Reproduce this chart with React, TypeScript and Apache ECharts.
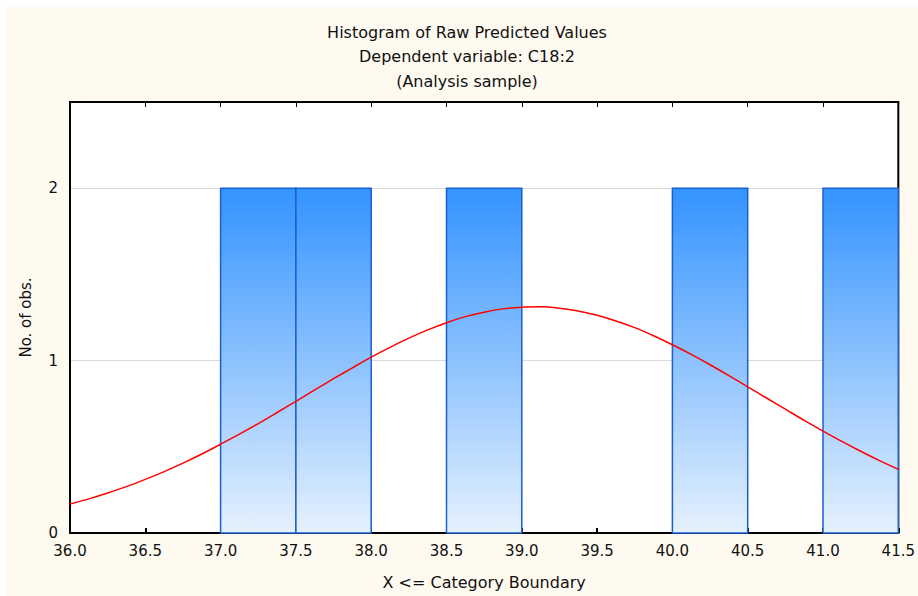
import React, { useEffect, useRef } from "react";
import * as echarts from "echarts";

const binStarts = [36.0, 36.5, 37.0, 37.5, 38.0, 38.5, 39.0, 39.5, 40.0, 40.5, 41.0];
const binEnds = [36.5, 37.0, 37.5, 38.0, 38.5, 39.0, 39.5, 40.0, 40.5, 41.0, 41.5];
const counts = [0, 0, 2, 2, 0, 2, 0, 0, 2, 0, 2];

const curveX = [
  36.0, 36.125, 36.25, 36.375, 36.5, 36.625, 36.75, 36.875, 37.0, 37.125, 37.25, 37.375,
  37.5, 37.625, 37.75, 37.875, 38.0, 38.125, 38.25, 38.375, 38.5, 38.625, 38.75, 38.875,
  39.0, 39.125, 39.25, 39.375, 39.5, 39.625, 39.75, 39.875, 40.0, 40.125, 40.25, 40.375,
  40.5, 40.625, 40.75, 40.875, 41.0, 41.125, 41.25, 41.375, 41.5,
];
const curveY = [
  0.168, 0.198, 0.232, 0.269, 0.311, 0.356, 0.405, 0.458, 0.515, 0.574, 0.635, 0.699,
  0.764, 0.83, 0.895, 0.958, 1.02, 1.077, 1.13, 1.178, 1.22, 1.255, 1.281, 1.3,
  1.31, 1.312, 1.304, 1.288, 1.263, 1.23, 1.191, 1.144, 1.092, 1.036, 0.976, 0.913,
  0.848, 0.783, 0.718, 0.653, 0.591, 0.531, 0.474, 0.42, 0.37,
];

const titleLines = ["Histogram of Raw Predicted Values", "Dependent variable: C18:2", "(Analysis sample)"];
const xAxisName = "X <= Category Boundary";
const yAxisName = "No. of obs.";

export default function App() {
  const ref = useRef<HTMLDivElement>(null);
  useEffect(() => {
    if (!ref.current) return;
    const chart = echarts.init(ref.current, null, { renderer: "svg" });
    const axisFont = "'DejaVu Sans', Verdana, sans-serif";
    const barFill = new echarts.graphic.LinearGradient(0, 0, 0, 1, [
      { offset: 0, color: "#3393ff" },
      { offset: 1, color: "#e6f1fd" },
    ]);
    chart.setOption({
      animation: false,
      backgroundColor: "#ffffff",
      graphic: [
        {
          type: "rect",
          z: -10,
          silent: true,
          shape: { x: 5, y: 7, width: 913, height: 589 },
          style: { fill: "#fefaf0" },
        },
        ...titleLines.map((t, i) => ({
          type: "text",
          x: 467,
          y: 32 + i * 24.5,
          style: {
            text: t,
            fill: "#111",
            font: `16px ${axisFont}`,
            textAlign: "center",
            textVerticalAlign: "middle",
          },
        })),
      ],
      grid: {
        left: 70,
        right: 19,
        top: 102,
        bottom: 63,
        show: true,
        backgroundColor: "#ffffff",
        borderColor: "#000",
        borderWidth: 2,
      },
      xAxis: [
        {
          type: "value",
          min: 36,
          max: 41.5,
          interval: 0.5,
          position: "bottom",
          name: xAxisName,
          nameLocation: "middle",
          nameGap: 41,
          nameTextStyle: { color: "#111", fontFamily: axisFont, fontSize: 16 },
          axisLine: { show: true, lineStyle: { color: "#000", width: 2 } },
          axisTick: { show: true, inside: true, length: 5, lineStyle: { color: "#000", width: 2 } },
          axisLabel: {
            color: "#111",
            fontFamily: axisFont,
            fontSize: 15,
            margin: 10,
            formatter: (v: number) => v.toFixed(1),
          },
          splitLine: { show: false },
        },
        {
          type: "value",
          min: 36,
          max: 41.5,
          interval: 0.5,
          position: "top",
          axisLine: { show: true, lineStyle: { color: "#000", width: 2 } },
          axisTick: { show: true, inside: true, length: 5, lineStyle: { color: "#000", width: 1 } },
          axisLabel: { show: false },
          splitLine: { show: false },
        },
      ],
      yAxis: {
        type: "value",
        min: 0,
        max: 2.5,
        interval: 1,
        name: yAxisName,
        nameLocation: "middle",
        nameGap: 37,
        nameRotate: 90,
        nameTextStyle: { color: "#111", fontFamily: axisFont, fontSize: 15 },
        axisLine: { show: true, lineStyle: { color: "#000", width: 2 } },
        axisTick: { show: false },
        axisLabel: {
          color: "#111",
          fontFamily: axisFont,
          fontSize: 15,
          margin: 12,
          showMaxLabel: false,
        },
        splitLine: { show: true, lineStyle: { color: "#d9d9d9", width: 1 } },
      },
      series: [
        {
          type: "custom",
          xAxisIndex: 0,
          yAxisIndex: 0,
          data: binStarts.map((s, i) => [s, binEnds[i], counts[i]]),
          renderItem: (params: any, api: any) => {
            const c = api.value(2);
            if (!c) return null;
            const p0 = api.coord([api.value(0), c]);
            const p1 = api.coord([api.value(1), 0]);
            return {
              type: "rect",
              shape: { x: p0[0], y: p0[1], width: p1[0] - p0[0], height: p1[1] - p0[1] },
              style: { fill: barFill, stroke: "#1a5fd0", lineWidth: 1.5 },
            };
          },
        },
        {
          type: "line",
          xAxisIndex: 0,
          yAxisIndex: 0,
          data: curveX.map((x, i) => [x, curveY[i]]),
          smooth: 0.3,
          showSymbol: false,
          symbol: "none",
          lineStyle: { color: "#ff0000", width: 1.5 },
          z: 5,
        },
      ],
    });
    return () => chart.dispose();
  }, []);
  return <div ref={ref} style={{ width: 918, height: 596, position: "fixed", left: 0, top: 0 }} />;
}
